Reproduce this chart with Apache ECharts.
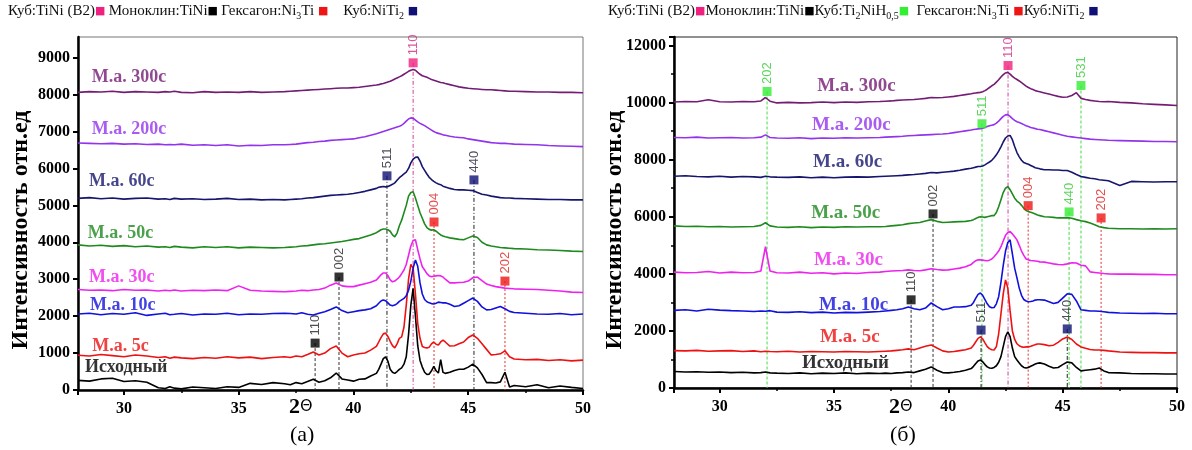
<!DOCTYPE html>
<html><head><meta charset="utf-8">
<script src="https://cdn.jsdelivr.net/npm/echarts@6/dist/echarts.min.js"></script>
<style>html,body{margin:0;padding:0;background:#fff}#c{width:1192px;height:450px}</style>
</head><body><div id="c"></div>
<script>
// 2θ grid shared by all patterns
const twoTheta = [
 28,28.5,29,29.5,30,30.5,31,31.5,31.8,32,32.2,32.5,33,33.5,34,34.5,35,35.5,36,36.5,37,
 37.25,37.5,37.75,38,38.25,38.5,38.75,39,39.25,39.5,39.75,40,40.25,40.5,40.75,
 41,41.1,41.2,41.3,41.4,41.5,41.6,41.7,41.8,41.9,42,42.1,42.2,42.3,42.4,42.5,42.6,42.7,42.8,42.9,43,43.1,43.2,43.3,43.4,43.5,43.6,43.7,43.8,43.9,
 44,44.2,44.4,44.6,44.8,45,45.2,45.4,45.6,45.8,46,46.2,46.4,46.6,46.8,47,
 47.5,48,48.5,49,49.5,50];

const seriesNames = ['Исходный','М.а. 5с','М.а. 10с','М.а. 30с','М.а. 50с','М.а. 60с','М.а. 200с','М.а. 300с'];
const seriesColors = ['#000000','#ee1111','#1111dd','#ee22ee','#1e8a1e','#16166e','#9333ee','#741c74'];

// ---- Panel (а) ----
const aInitial = [
 260,240,300,320,230,250,210,60,40,90,50,30,80,60,40,90,70,180,150,200,170,
 140,200,170,230,290,210,250,330,460,300,270,240,290,300,380,
 450,560,700,850,900,780,560,480,450,500,560,600,700,900,1500,2300,2750,2000,1200,800,620,480,420,430,520,640,520,460,820,480,
 450,480,530,560,560,620,700,600,420,200,200,190,220,480,80,120,
 90,140,60,110,70,40];
const a5 = [
 940,920,960,930,900,950,920,880,900,860,890,870,850,880,860,900,870,890,850,880,900,
 880,920,900,960,1030,950,1000,1120,1190,1000,900,950,980,1000,1080,
 1180,1300,1420,1520,1540,1450,1320,1200,1140,1250,1400,1440,1700,2300,3000,3400,3300,2600,1800,1400,1180,1150,1140,1160,1250,1300,1240,1220,1300,1350,
 1300,1190,1200,1250,1300,1420,1490,1400,1250,1100,950,960,980,1060,900,840,
 820,830,800,820,790,810];
const a10 = [
 2060,2080,2040,2070,2050,2090,2020,2060,2080,2040,2050,2070,2030,2060,2050,2080,2040,2060,2050,2070,2080,
 2070,2060,2090,2050,2030,2080,2120,2180,2250,2150,2090,2120,2150,2170,2200,
 2280,2350,2410,2440,2420,2360,2300,2280,2300,2340,2400,2440,2480,2550,2700,2950,3300,3520,3350,2900,2600,2450,2390,2360,2340,2330,2350,2380,2370,2360,
 2360,2320,2260,2280,2350,2420,2490,2400,2250,2170,2180,2220,2260,2200,2130,2100,
 2080,2060,2050,2070,2040,2060];
const a30 = [
 2720,2700,2710,2690,2720,2700,2710,2680,2700,2690,2710,2680,2700,2690,2710,2690,2820,2700,2680,2670,2660,
 2670,2680,2700,2690,2710,2720,2760,2840,2900,2820,2800,2800,2840,2880,2920,
 2980,3050,3120,3170,3170,3100,2980,2930,2950,3000,3060,3150,3250,3400,3650,3900,4050,4070,3800,3550,3340,3250,3150,3090,3070,3080,3090,3100,3090,3060,
 3000,2900,2900,2910,2920,2950,3040,3060,2960,2870,2830,2800,2780,2760,2750,2740,
 2730,2720,2700,2680,2650,2640];
const a50 = [
 3930,3900,3920,3890,3910,3880,3900,3870,3880,3860,3890,3870,3850,3880,3860,3880,3850,3870,3860,3850,3860,
 3870,3880,3900,3910,3930,3950,3960,3980,4000,4020,4050,4080,4100,4150,4200,
 4260,4300,4340,4360,4360,4340,4300,4200,4150,4250,4450,4600,4800,5000,5250,5350,5370,5200,5000,4800,4650,4500,4400,4350,4330,4340,4300,4250,4200,4170,
 4150,4120,4100,4080,4070,4120,4170,4130,4000,3930,3900,3880,3860,3850,3840,3830,
 3820,3800,3790,3780,3760,3750];
const a60 = [
 5190,5210,5180,5200,5170,5190,5200,5170,5180,5160,5190,5170,5180,5160,5170,5190,5160,5170,5150,5160,5150,
 5160,5170,5180,5200,5210,5230,5250,5270,5280,5290,5300,5320,5350,5380,5420,
 5460,5490,5500,5510,5500,5510,5540,5570,5610,5680,5750,5800,5850,5900,6000,6150,6250,6300,6310,6200,6050,5950,5850,5760,5700,5650,5610,5580,5560,5520,
 5500,5460,5430,5420,5420,5410,5400,5350,5300,5280,5250,5230,5210,5200,5200,5190,
 5180,5170,5160,5160,5150,5150];
const a200 = [
 6690,6680,6670,6680,6660,6670,6650,6660,6640,6650,6640,6660,6630,6640,6620,6640,6610,6630,6620,6640,6640,
 6650,6660,6680,6700,6710,6730,6740,6760,6770,6780,6790,6800,6830,6860,6900,
 6940,6960,6980,7000,7020,7040,7060,7080,7100,7120,7140,7170,7220,7280,7340,7370,7360,7310,7260,7220,7190,7160,7120,7080,7040,7000,6970,6950,6930,6910,
 6900,6870,6850,6840,6830,6800,6780,6760,6740,6720,6700,6690,6680,6680,6670,6660,
 6650,6640,6620,6610,6600,6590];
const a300 = [
 8060,8080,8070,8090,8060,8080,8070,8060,8080,8070,8090,8060,8050,8080,8060,8070,8060,8080,8060,8070,8080,
 8090,8100,8110,8120,8130,8140,8150,8160,8170,8180,8180,8190,8200,8220,8240,
 8260,8270,8290,8300,8320,8340,8360,8390,8420,8450,8480,8510,8550,8590,8630,8660,8680,8660,8600,8550,8510,8490,8470,8440,8410,8390,8370,8350,8330,8320,
 8300,8270,8240,8210,8190,8170,8160,8150,8140,8130,8130,8120,8110,8100,8090,8090,
 8080,8070,8070,8060,8060,8050];

// ---- Panel (б) ----
const bInitial = [
 580,560,570,550,560,540,550,530,540,560,530,520,510,530,500,520,510,530,500,520,510,
 520,510,530,540,560,540,600,660,740,620,540,530,550,580,620,
 680,760,860,950,980,920,820,740,700,690,720,780,900,1100,1450,1800,1970,1800,1400,1100,980,880,780,720,700,720,760,800,840,870,
 880,840,760,700,720,820,910,880,720,600,620,640,660,700,600,540,
 530,510,500,500,490,490];
const b5 = [
 1310,1300,1320,1290,1300,1310,1280,1300,1270,1290,1280,1270,1290,1260,1280,1270,1260,1280,1270,1260,1280,
 1290,1300,1320,1340,1370,1340,1400,1460,1510,1400,1300,1260,1280,1310,1340,
 1400,1500,1620,1740,1790,1720,1580,1450,1380,1340,1330,1450,1900,2600,3300,3790,3500,2700,2000,1700,1550,1480,1440,1430,1440,1440,1460,1490,1520,1540,
 1540,1520,1480,1500,1600,1720,1790,1700,1540,1440,1390,1350,1330,1330,1320,1300,
 1260,1250,1240,1240,1230,1230];
const b10 = [
 2720,2740,2700,2760,2730,2710,2700,2680,2700,2690,2710,2660,2650,2670,2640,2660,2630,2650,2640,2660,2680,
 2700,2720,2740,2780,2840,2780,2740,2800,2980,2850,2740,2780,2840,2840,2850,
 2900,3000,3150,3280,3330,3250,3100,2950,2850,2810,2820,2950,3200,3700,4300,4800,5100,5190,4700,4200,3860,3500,3250,3100,3050,3020,3030,3050,3080,3090,
 3090,3080,3020,2960,3000,3150,3300,3280,3050,2740,2720,2700,2700,2690,2670,2650,
 2630,2620,2610,2620,2600,2600];
const b30 = [
 4060,4040,4050,4080,4030,4060,4040,4050,4100,4950,4100,4040,4030,4060,4020,4040,4000,4030,4010,4050,4060,
 4080,4100,4110,4120,4140,4120,4110,4140,4180,4150,4130,4140,4170,4200,4250,
 4330,4400,4460,4490,4490,4480,4470,4460,4480,4520,4600,4700,4800,4950,5150,5350,5450,5480,5400,5300,5190,5000,4800,4650,4520,4490,4470,4460,4450,4440,
 4420,4410,4380,4350,4330,4320,4350,4390,4380,4300,4280,4070,4050,4030,4010,4000,
 3990,3990,3980,3980,3970,3970];
const b50 = [
 5680,5660,5670,5650,5660,5640,5650,5660,5700,5790,5680,5640,5630,5650,5620,5640,5630,5650,5640,5650,5650,
 5660,5680,5700,5720,5760,5780,5800,5850,5900,5840,5800,5810,5820,5830,5840,
 5870,5900,5940,5980,6000,5990,5980,6000,6020,6040,6040,6150,6350,6600,6850,7000,7060,6950,6800,6650,6550,6490,6400,6300,6220,6180,6160,6130,6100,6060,
 6040,6000,5990,5980,5960,5960,5970,5950,5900,5860,5830,5780,5720,5650,5620,5600,
 5580,5580,5570,5580,5570,5580];
const b60 = [
 7420,7440,7410,7400,7420,7390,7410,7400,7380,7420,7400,7390,7380,7400,7370,7390,7370,7390,7400,7390,7410,
 7420,7430,7440,7450,7470,7480,7500,7520,7550,7540,7560,7580,7600,7630,7670,
 7700,7720,7740,7760,7760,7780,7820,7870,7920,7980,8070,8170,8300,8450,8620,8760,8830,8850,8700,8460,8250,8100,7980,7900,7870,7840,7800,7760,7720,7700,
 7680,7650,7650,7640,7640,7620,7620,7560,7480,7410,7380,7350,7330,7300,7280,7260,
 7100,7240,7230,7220,7230,7230];
const b200 = [
 8780,8770,8790,8760,8770,8780,8760,8770,8790,8870,8780,8760,8750,8770,8740,8760,8750,8770,8760,8770,8780,
 8790,8800,8810,8820,8840,8850,8860,8870,8880,8890,8900,8920,8950,8980,9010,
 9040,9060,9070,9080,9090,9100,9130,9160,9190,9210,9230,9280,9350,9440,9520,9570,9580,9520,9440,9380,9330,9300,9270,9230,9190,9160,9130,9110,9090,9070,
 9060,9020,8980,8940,8900,8860,8820,8800,8780,8760,8740,8720,8710,8700,8690,8680,
 8670,8660,8650,8640,8640,8630];
const b300 = [
 10020,10040,10030,10100,10030,10020,10040,10030,10060,10180,10050,9990,10010,9990,10000,10020,10000,10020,10010,10030,10040,
 10050,10060,10080,10090,10100,10110,10130,10150,10180,10170,10180,10200,10220,10250,10280,
 10310,10330,10340,10350,10360,10380,10420,10470,10530,10590,10640,10720,10800,10900,10980,11040,11060,11000,10920,10860,10810,10760,10700,10640,10580,10530,10490,10460,10420,10400,
 10380,10340,10300,10260,10220,10190,10200,10250,10350,10150,10110,10080,10060,10040,10030,10040,
 10010,9990,9960,9940,9920,9900];

// Reflection markers: [2θ, marker intensity, hkl, phase]
const annotA = [
 [42.6, 8860, '110', 'b2'], [41.46, 5800, '511', 'niti2'], [45.25, 5690, '440', 'niti2'],
 [43.51, 4550, '004', 'ni3ti'], [39.37, 3060, '002', 'mono'], [46.6, 2950, '202', 'ni3ti'],
 [38.33, 1270, '110', 'mono']];
const annotB = [
 [32.07, 10390, '202', 'tih'], [42.61, 11300, '110', 'b2'], [45.8, 10600, '531', 'tih'],
 [41.47, 9260, '511', 'tih'], [39.33, 6100, '002', 'mono'], [43.49, 6390, '004', 'ni3ti'],
 [45.28, 6170, '440', 'tih'], [46.68, 5960, '202', 'ni3ti'], [38.37, 3090, '110', 'mono'],
 [41.43, 2030, '511', 'niti2'], [45.2, 2070, '440', 'niti2']];

// curve label anchors (data units)
const labelPosA = [[28.3,620],[28.62,1190],[28.52,2300],[28.48,3060],[28.42,4250],[28.48,5640],[28.6,7050],[28.6,8480]];
const labelPosB = [[33.6,880],[34.39,1790],[34.34,2910],[34.12,4490],[34.0,6140],[34.08,7900],[34.04,9230],[34.26,10565]];

const seriesA = [aInitial,a5,a10,a30,a50,a60,a200,a300];
const seriesB = [bInitial,b5,b10,b30,b50,b60,b200,b300];

const phaseStyle = {
  b2:    {sq:'#f0207f', txt:'#d02c86', line:'#d0409a', dash:[4,2,1,2]},
  mono:  {sq:'#000000', txt:'#222222', line:'#333333', dash:[3,2]},
  ni3ti: {sq:'#f01515', txt:'#e02020', line:'#e03030', dash:[2,2]},
  niti2: {sq:'#101075', txt:'#222233', line:'#222222', dash:[4,2,1,2]},
  tih:   {sq:'#33ee33', txt:'#33cc33', line:'#44dd44', dash:[3,2]}
};

const chart = echarts.init(document.getElementById('c'), null, {renderer:'canvas'});
const serif = "'Liberation Serif', 'Times New Roman', serif";

function buildSeries(gi, data, annot, labelPos, labelSize){
  const out = [];
  annot.forEach(a => {
    const st = phaseStyle[a[3]];
    out.push({type:'line', xAxisIndex:gi, yAxisIndex:gi, data:[[a[0],a[1]],[a[0],0]],
      showSymbol:false, silent:true, z:1,
      lineStyle:{color:st.line, width:1, type:st.dash}});
  });
  data.forEach((arr,k) => {
    out.push({type:'line', name:seriesNames[k], xAxisIndex:gi, yAxisIndex:gi,
      data: twoTheta.map((x,i)=>[x, arr[i]]), showSymbol:false, silent:true, z:3,
      lineStyle:{color:seriesColors[k], width:1.6}});
  });
  out.push({type:'scatter', xAxisIndex:gi, yAxisIndex:gi, symbol:'rect', symbolSize:9, z:5, silent:true,
    data: annot.map(a => ({value:[a[0],a[1]], itemStyle:{color:phaseStyle[a[3]].sq},
      label:{color:phaseStyle[a[3]].txt}})),
    label:{show:true, formatter:p=>annot[p.dataIndex][2], position:'top', rotate:90, align:'left',
      verticalAlign:'middle', distance:3, fontFamily:"'Liberation Sans', Arial, sans-serif", fontSize:13}});
  out.push({type:'scatter', xAxisIndex:gi, yAxisIndex:gi, symbolSize:0, z:6, silent:true,
    data: labelPos.map((p,k)=>({value:p, label:{color:seriesColors[k]}})),
    label:{show:true, formatter:p=>seriesNames[p.dataIndex], position:'right', distance:0,
      align:'left', verticalAlign:'middle', fontFamily:serif, fontWeight:'bold', fontSize:labelSize}});
  return out;
}

function xAxisCfg(gi){
  return {type:'value', gridIndex:gi, min:28, max:50, splitNumber:5,
    axisLine:{onZero:false, lineStyle:{color:'#000', width:2.5}},
    axisTick:{inside:false, length:5, lineStyle:{color:'#000', width:2}},
    minorTick:{show:true, splitNumber:2, length:3, lineStyle:{color:'#000', width:1.5}},
    splitLine:{show:false},
    axisLabel:{showMinLabel:false, formatter:v=>String(v), fontFamily:serif, fontWeight:'bold', fontSize:16, color:'#000', margin:11}};
}
function yAxisCfg(gi, max, interval, minor){
  return {type:'value', gridIndex:gi, min:0, max:max, interval:interval,
    axisLine:{show:true, onZero:false, lineStyle:{color:'#000', width:2.5}},
    axisTick:{show:true, inside:false, length:5, lineStyle:{color:'#000', width:2}},
    minorTick:{show:minor, splitNumber:2, length:3, lineStyle:{color:'#000', width:1.5}},
    splitLine:{show:false},
    axisLabel:{showMaxLabel:false, formatter:v=>String(v), fontFamily:serif, fontWeight:'bold', fontSize:16, color:'#000', margin:8}};
}

const legendRich = {
  t:{fontFamily:serif, fontSize:15, fill:'#111', lineHeight:20, verticalAlign:'middle'},
  s:{fontFamily:serif, fontSize:10, fill:'#111', lineHeight:10, verticalAlign:'bottom'},
  sp:{fontFamily:serif, fontSize:15, lineHeight:20},
  pk:{fontFamily:"'DejaVu Sans'", fontSize:11, fill:'#f0207f', lineHeight:20},
  bk:{fontFamily:"'DejaVu Sans'", fontSize:11, fill:'#000', lineHeight:20},
  rd:{fontFamily:"'DejaVu Sans'", fontSize:11, fill:'#f01515', lineHeight:20},
  nv:{fontFamily:"'DejaVu Sans'", fontSize:11, fill:'#101075', lineHeight:20},
  gr:{fontFamily:"'DejaVu Sans'", fontSize:11, fill:'#33ee33', lineHeight:20}
};
const thetaRich = {
  b:{fontFamily:serif, fontWeight:'bold', fontSize:22, fill:'#000', lineHeight:24},
  th:{fontFamily:"'DejaVu Sans'", fontSize:16, fill:'#000', lineHeight:24}
};
const yTitle = 'Интенсивность отн.ед';

const option = {
  animation:false,
  backgroundColor:'#fff',
  grid:[
    {left:78, right:609, top:37, bottom:60, show:true, borderColor:'#777', borderWidth:1, backgroundColor:'transparent'},
    {left:674, right:15, top:37, bottom:62, show:true, borderColor:'#222', borderWidth:1, backgroundColor:'transparent'}
  ],
  xAxis:[xAxisCfg(0), xAxisCfg(1)],
  yAxis:[yAxisCfg(0, 9560, 1000, false), yAxisCfg(1, 12300, 2000, true)],
  series:[].concat(buildSeries(0, seriesA, annotA, labelPosA, 18), buildSeries(1, seriesB, annotB, labelPosB, 19)),
  graphic:[
    {type:'text', left:8, top:4, style:{text:'{t|Куб:TiNi (B2)}{pk|■} {t|Моноклин:TiNi}{bk|■} {t|Гексагон:Ni}{s|3}{t|Ti}{sp| }{rd|■}{sp|    }{t|Куб:NiTi}{s|2}{sp| }{nv|■}', rich:legendRich}},
    {type:'text', left:608, top:4, style:{text:'{t|Куб:TiNi (B2)}{pk|■}{t|Моноклин:TiNi}{bk|■}{t|Куб:Ti}{s|2}{t|NiH}{s|0,5}{gr|■}{sp|  }{t|Гексагон:Ni}{s|3}{t|Ti}{sp| }{rd|■}{t|Куб:NiTi}{s|2}{sp| }{nv|■}', rich:legendRich}},
    {type:'text', x:21, y:230, rotation:Math.PI/2, style:{text:yTitle, font:"bold 24px 'Liberation Serif'", fill:'#000', align:'center', verticalAlign:'middle'}},
    {type:'text', x:615, y:230, rotation:Math.PI/2, style:{text:yTitle, font:"bold 24px 'Liberation Serif'", fill:'#000', align:'center', verticalAlign:'middle'}},
    {type:'text', left:289, top:396, style:{text:'{b|2}{th|Θ}', rich:thetaRich}},
    {type:'text', left:889, top:396, style:{text:'{b|2}{th|Θ}', rich:thetaRich}},
    {type:'text', left:290, top:424, style:{text:'(а)', font:"22px 'Liberation Serif'", fill:'#000'}},
    {type:'text', left:890, top:424, style:{text:'(б)', font:"22px 'Liberation Serif'", fill:'#000'}}
  ]
};
chart.setOption(option);
</script></body></html>
